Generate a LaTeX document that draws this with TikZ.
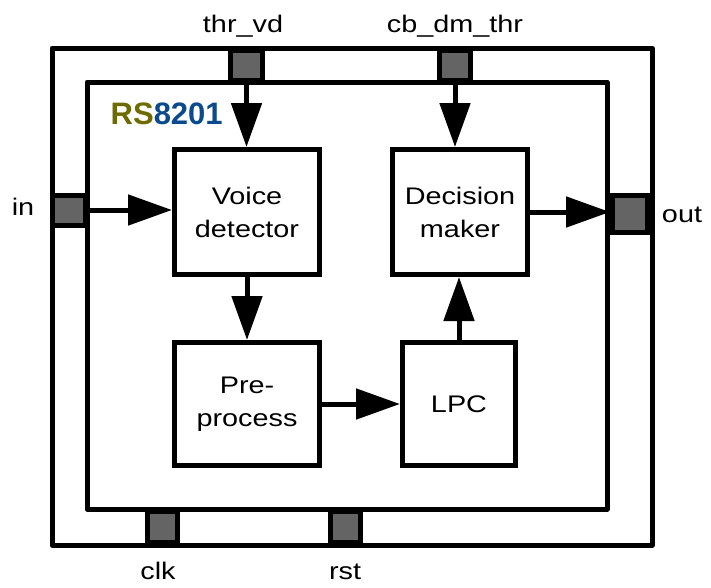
\documentclass[tikz,border=0pt]{standalone}
\usepackage{fontspec}
\setmainfont{Liberation Sans}[FakeStretch=1.2]
\newfontfamily\titrefont{Liberation Sans}
\usetikzlibrary{arrows.meta}
\definecolor{olivers}{RGB}{110,108,0}
\definecolor{bleurs}{RGB}{11,74,140}
\definecolor{grisport}{RGB}{100,100,100}
\begin{document}
\begin{tikzpicture}[x=1pt,y=-1pt]
    \tikzstyle{bloc}=[draw,line width=5pt,align=center,font=\fontsize{24}{33}\selectfont]
    \tikzstyle{port}=[draw,line width=5pt,fill=grisport,inner sep=0pt]
    \tikzstyle{etiquette}=[anchor=base,inner sep=0pt,font=\fontsize{24}{28}\selectfont]
    \tikzstyle{fleche}=[line width=5pt,-{Triangle[length=44pt,width=30pt]}]
    \useasboundingbox (0,0) rectangle (711,587);
    % cadres
    \draw[line width=5pt,line join=round] (52,48) rectangle (652,545);
    \draw[line width=5pt,line join=round] (87,82) rectangle (607,509);
    \node[fill=white,inner sep=0pt,minimum width=153pt,minimum height=57pt,anchor=north west,
          font=\titrefont\bfseries\fontsize{31}{31}\selectfont] (titre) at (90,85)
          {\textcolor{olivers}{RS}\textcolor{bleurs}{8201}};
    % blocs
    \node[bloc,minimum width=145pt,minimum height=125pt] (vd) at (247,212) {Voice\\detector};
    \node[bloc,minimum width=135pt,minimum height=125pt] (dm) at (460,212) {Decision\\maker};
    \node[bloc,minimum width=145pt,minimum height=123pt] (pre) at (247,404) {Pre-\\process};
    \node[bloc,minimum width=113pt,minimum height=123pt] (lpc) at (459,404) {LPC};
    % ports
    \node[port,minimum width=32pt,minimum height=30pt] (pthr) at (246.5,65) {};
    \node[port,minimum width=31pt,minimum height=30pt] (pcb) at (455,65) {};
    \node[port,minimum width=33pt,minimum height=30pt] (pin) at (69,210) {};
    \node[port,minimum width=35pt,minimum height=37pt] (pout) at (630,214) {};
    \node[port,minimum width=30pt,minimum height=31pt] (pclk) at (162.5,527) {};
    \node[port,minimum width=30pt,minimum height=31pt] (prst) at (345.5,527) {};
    % connexions
    \draw[fleche] (pthr) -- (pthr |- vd.north);
    \draw[fleche] (pcb) -- (pcb |- dm.north);
    \draw[fleche] (pin) -- (pin -| vd.west);
    \draw[fleche] (vd) -- (pre);
    \draw[fleche] (pre) -- (lpc);
    \draw[fleche] (lpc) -- (lpc |- dm.south);
    \draw[fleche] (dm) -- (dm -| pout.west);
    % etiquettes
    \node[etiquette] (lthr) at (243,32) {thr\_vd};
    \node[etiquette] (lcb) at (455,32) {cb\_dm\_thr};
    \node[etiquette] (lin) at (23,215) {in};
    \node[etiquette] (lout) at (682,222) {out};
    \node[etiquette] (lclk) at (158,579) {clk};
    \node[etiquette] (lrst) at (345,579) {rst};
\end{tikzpicture}
\end{document}
